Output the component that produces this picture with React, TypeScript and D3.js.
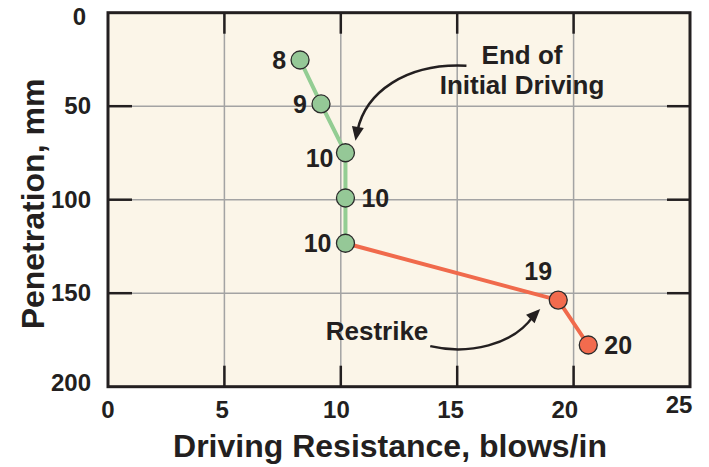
import React from "react";
import * as d3 from "d3";

// ---- data ----
const initialResistance = [8.25, 9.15, 10.2, 10.2, 10.2];
const initialPenetration = [25.3, 48.8, 74.9, 99.1, 123.3];
const initialBlows = ["8", "9", "10", "10", "10"];
const initialLabelSide = ["left", "left", "leftLow", "right", "left"];

const restrikeResistance = [10.2, 19.34, 20.63];
const restrikePenetration = [123.3, 153.7, 177.7];
const restrikeBlows = ["", "19", "20"];
const restrikeLabelSide = ["none", "above", "right"];

const xTicks = [0, 5, 10, 15, 20, 25];
const yTicks = [0, 50, 100, 150, 200];

const W = 709;
const H = 467;
const FONT = "'Liberation Sans', Arial, Helvetica, sans-serif";
const INK = "#231f20";

export default function App() {
  const x = d3.scaleLinear().domain([0, 25]).range([108, 690]);
  const xLab = d3.scaleLinear().domain([0, 25]).range([108, 679]);
  const y = d3.scaleLinear().domain([0, 200]).range([12.7, 386.7]);

  const line = d3
    .line<[number, number]>()
    .x((d) => x(d[0]))
    .y((d) => y(d[1]));

  const initPts: [number, number][] = initialResistance.map((v, i) => [v, initialPenetration[i]]);
  const rePts: [number, number][] = restrikeResistance.map((v, i) => [v, restrikePenetration[i]]);

  const labelPos = (side: string, px: number, py: number) => {
    switch (side) {
      case "left":
        return { x: px - 14, y: py + 9, anchor: "end" };
      case "leftLow":
        return { x: px - 12, y: py + 14, anchor: "end" };
      case "right":
        return { x: px + 16, y: py + 9, anchor: "start" };
      case "above":
        return { x: px - 20, y: py - 20, anchor: "middle" };
      default:
        return { x: px + 26, y: py + 7, anchor: "start" };
    }
  };

  const x0 = x(0), x1 = x(25), y0 = y(0), y1 = y(200);
  const tickLen = 21;

  // annotation arrows anchored to data points
  const endPt = [x(initialResistance[2]), y(initialPenetration[2])];
  const a1 = d3.path();
  a1.moveTo(endPt[0] + 121, endPt[1] - 87);
  a1.bezierCurveTo(endPt[0] + 60, endPt[1] - 90, endPt[0] + 20, endPt[1] - 60, endPt[0] + 12, endPt[1] - 22);
  const a1Tip = [endPt[0] + 10, endPt[1] - 12];

  const rPt = [x(restrikeResistance[1]), y(restrikePenetration[1])];
  const a2 = d3.path();
  a2.moveTo(rPt[0] - 128, rPt[1] + 46);
  a2.bezierCurveTo(rPt[0] - 90, rPt[1] + 55, rPt[0] - 45, rPt[1] + 45, rPt[0] - 25, rPt[1] + 16);
  const a2Tip = [rPt[0] - 18, rPt[1] + 9];

  const head = (tip: number[], angDeg: number) => {
    const a = (angDeg * Math.PI) / 180;
    const len = 14, half = 6;
    const bx = tip[0] - len * Math.cos(a), by = tip[1] - len * Math.sin(a);
    const nx = -Math.sin(a), ny = Math.cos(a);
    return `M${tip[0]},${tip[1]}L${bx + nx * half},${by + ny * half}L${bx - nx * half},${by - ny * half}Z`;
  };

  return (
    <svg
      width={W}
      height={H}
      style={{ position: "absolute", left: 0, top: 0, background: "#ffffff" }}
      fontFamily={FONT}
      fontWeight="bold"
    >
      <rect x={x0} y={y0} width={x1 - x0} height={y1 - y0} fill="#fbf5e8" />
      {/* grid */}
      {xTicks.slice(1, -1).map((t) => (
        <line key={"gx" + t} x1={x(t)} x2={x(t)} y1={y0} y2={y1} stroke="#a3a3a3" strokeWidth={1.5} />
      ))}
      {yTicks.slice(1, -1).map((t) => (
        <line key={"gy" + t} x1={x0} x2={x1} y1={y(t)} y2={y(t)} stroke="#a3a3a3" strokeWidth={1.5} />
      ))}
      {/* inward ticks */}
      {xTicks.slice(1, -1).map((t) => (
        <g key={"tx" + t} stroke={INK} strokeWidth={2.5}>
          <line x1={x(t)} x2={x(t)} y1={y0} y2={y0 + tickLen} />
          <line x1={x(t)} x2={x(t)} y1={y1} y2={y1 - tickLen} />
        </g>
      ))}
      {yTicks.slice(1, -1).map((t) => (
        <g key={"ty" + t} stroke={INK} strokeWidth={2.5}>
          <line x1={x0} x2={x0 + tickLen + 3} y1={y(t)} y2={y(t)} />
          <line x1={x1} x2={x1 - tickLen - 2} y1={y(t)} y2={y(t)} />
        </g>
      ))}
      <rect x={x0} y={y0} width={x1 - x0} height={y1 - y0} fill="none" stroke={INK} strokeWidth={3} />

      {/* tick labels */}
      {xTicks.map((t) => (
        <text key={"lx" + t} x={xLab(t)} y={t === 25 ? 413 : 418} textAnchor="middle" fontSize={24} fill={INK}>
          {t}
        </text>
      ))}
      {yTicks.map((t) => (
        <text key={"ly" + t} x={t === 0 ? 86 : 91} y={y(t) + 8 + (t === 0 ? 4 : 0) - (t === 200 ? 4 : 0)} textAnchor="end" fontSize={24} fill={INK}>
          {t}
        </text>
      ))}

      {/* axis titles */}
      <text x={390} y={457} textAnchor="middle" fontSize={32} fill={INK}>
        Driving Resistance, blows/in
      </text>
      <text transform={`translate(43.5,204) rotate(-90)`} textAnchor="middle" fontSize={32} fill={INK}>
        Penetration, mm
      </text>

      {/* lines */}
      <path d={line(rePts) || ""} fill="none" stroke="#f06a4c" strokeWidth={4} />
      <path d={line(initPts) || ""} fill="none" stroke="#93cd93" strokeWidth={4} />

      {/* points */}
      {initPts.map((p, i) => (
        <circle key={"ci" + i} cx={x(p[0])} cy={y(p[1])} r={9} fill="#95c897" stroke="#2b2b2b" strokeWidth={1.3} />
      ))}
      {rePts.slice(1).map((p, i) => (
        <circle key={"cr" + i} cx={x(p[0])} cy={y(p[1])} r={9} fill="#f26b4e" stroke="#2b2b2b" strokeWidth={1.3} />
      ))}

      {/* point labels */}
      {initPts.map((p, i) => {
        const l = labelPos(initialLabelSide[i], x(p[0]), y(p[1]));
        return (
          <text key={"tl" + i} x={l.x} y={l.y} textAnchor={l.anchor} fontSize={25} fill={INK}>
            {initialBlows[i]}
          </text>
        );
      })}
      {rePts.map((p, i) => {
        if (restrikeLabelSide[i] === "none") return null;
        const l = labelPos(restrikeLabelSide[i], x(p[0]), y(p[1]));
        return (
          <text key={"tr" + i} x={l.x} y={l.y} textAnchor={l.anchor} fontSize={25} fill={INK}>
            {restrikeBlows[i]}
          </text>
        );
      })}

      {/* annotations */}
      <text x={522} y={64} textAnchor="middle" fontSize={26} fill={INK}>End of</text>
      <text x={522} y={94} textAnchor="middle" fontSize={26} fill={INK}>Initial Driving</text>
      <path d={a1.toString()} fill="none" stroke={INK} strokeWidth={2.5} />
      <path d={head(a1Tip, 100)} fill={INK} />

      <text x={377} y={340} textAnchor="middle" fontSize={26} fill={INK}>Restrike</text>
      <path d={a2.toString()} fill="none" stroke={INK} strokeWidth={2.5} />
      <path d={head(a2Tip, -45)} fill={INK} />
    </svg>
  );
}
